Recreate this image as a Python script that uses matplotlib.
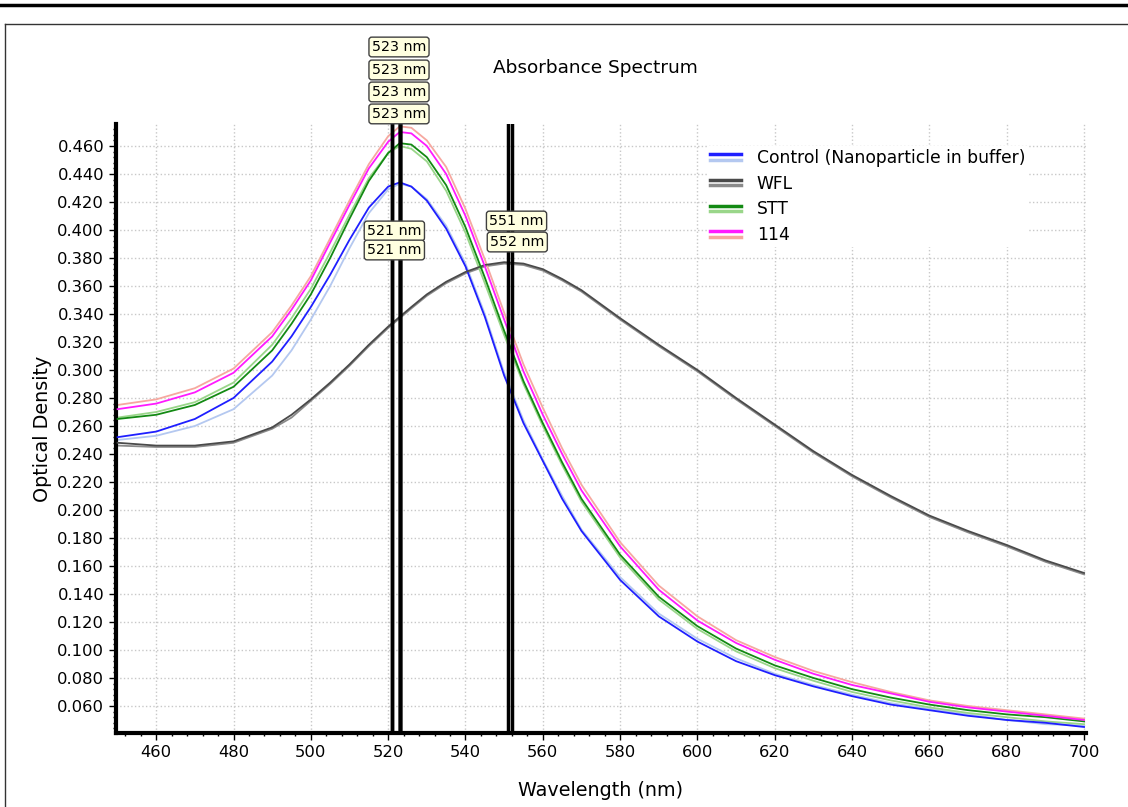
import numpy as np
import matplotlib
matplotlib.use('Agg')
import matplotlib.pyplot as plt
from matplotlib.lines import Line2D
from matplotlib.legend_handler import HandlerBase
from matplotlib.ticker import MultipleLocator, FormatStrFormatter

# wavelengths (nm) where values were read
wl = [450, 460, 470, 480, 490, 495, 500, 505, 510, 515, 520, 523, 526, 530, 535, 540, 545,
      550, 555, 560, 565, 570, 580, 590, 600, 610, 620, 630, 640, 650, 660, 670, 680, 690, 700]

control_a = [.252, .256, .265, .280, .306, .324, .345, .368, .393, .416, .431, .434, .431, .421, .401, .374, .338,
             .296, .262, .235, .208, .185, .150, .124, .106, .092, .082, .074, .067, .061, .057, .053, .050, .048, .045]
control_b = [.250, .253, .260, .272, .296, .314, .336, .360, .387, .412, .429, .433, .431, .422, .403, .376, .340,
             .298, .264, .236, .210, .186, .152, .126, .108, .094, .083, .075, .068, .062, .058, .054, .050, .047, .046]
wfl_a = [.248, .246, .246, .249, .259, .268, .279, .291, .304, .318, .331, .338, .345, .354, .363, .370, .375,
         .377, .376, .372, .365, .357, .337, .318, .300, .280, .261, .242, .225, .210, .196, .185, .175, .164, .155]
wfl_b = [.246, .245, .245, .248, .258, .266, .278, .290, .303, .317, .330, .337, .344, .353, .362, .369, .374,
         .376, .375, .371, .364, .356, .336, .317, .299, .279, .260, .241, .224, .209, .195, .184, .174, .163, .154]
stt_a = [.265, .268, .275, .288, .314, .333, .354, .380, .408, .435, .455, .462, .461, .452, .432, .402, .366,
         .328, .292, .262, .234, .208, .168, .138, .117, .101, .089, .080, .072, .066, .061, .057, .054, .052, .049]
stt_b = [.266, .270, .277, .291, .318, .337, .358, .384, .411, .437, .455, .460, .458, .449, .428, .398, .362,
         .325, .290, .260, .232, .206, .166, .136, .115, .099, .087, .078, .070, .064, .059, .055, .052, .049, .047]
s114_a = [.272, .276, .284, .298, .324, .343, .364, .391, .418, .444, .463, .470, .469, .460, .440, .410, .374,
          .336, .299, .268, .240, .214, .174, .143, .121, .105, .093, .083, .075, .069, .063, .059, .056, .053, .050]
s114_b = [.275, .279, .287, .301, .327, .346, .367, .394, .421, .447, .467, .474, .473, .464, .445, .415, .379,
          .341, .304, .273, .244, .218, .177, .146, .124, .107, .095, .085, .077, .070, .064, .060, .057, .054, .051]

names = ['Control (Nanoparticle in buffer)', 'WFL', 'STT', '114']
dark_cols = ['#1f1fff', '#4a4a4a', '#138a13', '#ff1aff']
light_cols = ['#b4c8f0', '#8a8a8a', '#9ad68a', '#f6a8a0']

peaks = [521, 521, 523, 523, 523, 523, 551, 552]
# label positions (x nm, y OD)
lab_x = [521.6, 521.6, 522.8, 522.8, 522.8, 522.8, 553.2, 553.4]
lab_y = [0.3993, 0.3857, 0.5307, 0.5143, 0.4986, 0.4829, 0.4064, 0.3914]


class Pair:
    def __init__(self, c1, c2):
        self.c1 = c1
        self.c2 = c2


class PairHandler(HandlerBase):
    def create_artists(self, legend, orig, xd, yd, w, h, fs, trans):
        l1 = Line2D([-xd, -xd + w], [-yd + h * 0.72] * 2, color=orig.c1, lw=2.5, transform=trans)
        l2 = Line2D([-xd, -xd + w], [-yd + h * 0.28] * 2, color=orig.c2, lw=2.5, transform=trans)
        return [l1, l2]


fig = plt.figure(figsize=(11.28, 8.07), dpi=100)
ax = fig.add_axes([116 / 1128, 1 - 733 / 807, (1086 - 116) / 1128, (733 - 124) / 807])

series = [(control_a, control_b), (wfl_a, wfl_b), (stt_a, stt_b), (s114_a, s114_b)]
for (a, b), c1, c2 in zip(series, dark_cols, light_cols):
    ax.plot(wl, b, color=c2, lw=1.3, zorder=2)
    ax.plot(wl, a, color=c1, lw=1.3, zorder=3)

for p in peaks:
    ax.axvline(p, color='black', lw=2.5, zorder=4)

for t, x, y in zip(peaks, lab_x, lab_y):
    ax.text(x, y, '%d nm' % t, ha='center', va='center', fontsize=10.3, clip_on=False, zorder=6,
            bbox=dict(boxstyle='round,pad=0.2,rounding_size=0.2', fc='#ffffe0', ec='#404040', lw=1))

ax.set_xlim(449.6, 700.5)
ax.set_ylim(0.0407, 0.4757)
ax.xaxis.set_major_locator(MultipleLocator(20))
ax.xaxis.set_minor_locator(MultipleLocator(4))
ax.yaxis.set_major_locator(MultipleLocator(0.02))
ax.yaxis.set_minor_locator(MultipleLocator(0.004))
ax.yaxis.set_major_formatter(FormatStrFormatter('%.3f'))
ax.grid(True, which='major', color='#c8c8c8', ls=':', lw=1)
ax.set_axisbelow(True)

for s in ['top', 'right']:
    ax.spines[s].set_visible(False)
for s in ['left', 'bottom']:
    ax.spines[s].set_linewidth(3)
ax.tick_params(which='major', length=5, width=1, labelsize=11.8)
ax.tick_params(which='minor', length=2.5, width=1)

ax.set_xlabel('Wavelength (nm)', fontsize=13.8, labelpad=15)
ax.set_ylabel('Optical Density', fontsize=13.8)
fig.text(595 / 1128, 1 - 68 / 807, 'Absorbance Spectrum', ha='center', va='center', fontsize=13.3)

handles = [Pair(c1, c2) for c1, c2 in zip(dark_cols, light_cols)]
leg = ax.legend(handles, names, handler_map={Pair: PairHandler()}, loc='upper left',
                bbox_to_anchor=(698 / 1128, 1 - 137 / 807), bbox_transform=fig.transFigure,
                frameon=True, fontsize=12.3, handlelength=1.8, handletextpad=0.95,
                labelspacing=0.45, borderpad=0.2, fancybox=False)
leg.get_frame().set_edgecolor('none')
leg.get_frame().set_facecolor('white')
leg.get_frame().set_alpha(1)
leg.set_zorder(5)

# outer frame and top bar
fig.add_artist(Line2D([0, 1], [1 - 5 / 807] * 2, transform=fig.transFigure, color='black', lw=2.5))
fig.add_artist(Line2D([5 / 1128, 1], [1 - 24 / 807] * 2, transform=fig.transFigure, color='#333333', lw=1))
fig.add_artist(Line2D([5 / 1128] * 2, [0, 1 - 24 / 807], transform=fig.transFigure, color='#333333', lw=1))

plt.savefig('out.png', dpi=100)
